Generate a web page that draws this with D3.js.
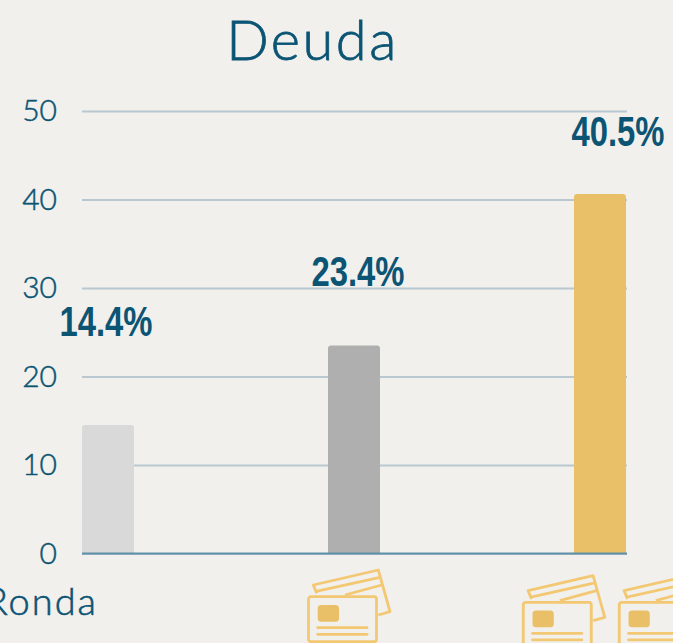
<!DOCTYPE html>
<html>
<head>
<meta charset="utf-8">
<script src="https://cdn.jsdelivr.net/npm/d3@7"></script>
<style>
  html, body { margin: 0; padding: 0; background: #f1f0ec; overflow: hidden; }
  svg { display: block; }
</style>
</head>
<body>
<div id="chart"></div>
<script>
const categories = ['Ronda 1', 'Ronda 2', 'Ronda 3'];
const values = [14.4, 23.4, 40.5];
const labels = ['14.4%', '23.4%', '40.5%'];
const barColors = ['#d9d9d9', '#afafaf', '#e9c068'];
const yTicks = [0, 10, 20, 30, 40, 50];
const iconCounts = [0, 1, 2];

const width = 673, height = 643;
const blue = '#0b5474';
const sans = 'Lato, sans-serif';

const svg = d3.select('#chart').append('svg')
    .attr('width', width)
    .attr('height', height);

svg.append('rect').attr('width', width).attr('height', height).attr('fill', '#f1f0ec');

// Scales
const x = d3.scaleBand()
    .domain(categories)
    .range([82, 626])
    .paddingInner(0.7886)
    .paddingOuter(0);
const y = d3.scaleLinear()
    .domain([0, 50])
    .range([553.5, 111]);

// Y axis, ticks double as gridlines
const yAxis = svg.append('g')
    .attr('transform', 'translate(82,0)')
    .call(d3.axisLeft(y).tickValues(yTicks).tickSize(-545).tickPadding(25));
yAxis.select('.domain').remove();
yAxis.selectAll('.tick line').attr('stroke', '#b8c7d0').attr('stroke-width', 2);
yAxis.selectAll('.tick text')
    .attr('fill', blue)
    .attr('stroke', blue)
    .attr('stroke-width', 0.5)
    .style('font-family', sans)
    .style('font-weight', 300)
    .style('font-size', '30px');

// Bars, only the top corners are rounded
const r = 3;
svg.selectAll('.bar')
    .data(categories)
    .enter().append('path')
    .attr('class', 'bar')
    .attr('fill', (d, i) => barColors[i])
    .attr('d', (d, i) => {
        const x0 = x(d), x1 = x(d) + x.bandwidth(), top = y(values[i]) - 1, bot = y(0);
        return `M${x0},${bot}V${top + r}Q${x0},${top} ${x0 + r},${top}H${x1 - r}Q${x1},${top} ${x1},${top + r}V${bot}Z`;
    });

// Baseline
svg.append('line')
    .attr('x1', 82).attr('x2', 627)
    .attr('y1', y(0)).attr('y2', y(0))
    .attr('stroke', '#5f90a8').attr('stroke-width', 2);

// Value labels, they sit at uneven spots over the bars
const labelDx = [-2, 4, 18];
const labelY = [336, 286, 146];
svg.selectAll('.label')
    .data(labels)
    .enter().append('text')
    .attr('class', 'label')
    .attr('text-anchor', 'middle')
    .attr('x', (d, i) => x(categories[i]) + x.bandwidth() / 2 + labelDx[i])
    .attr('y', (d, i) => labelY[i])
    .attr('fill', blue)
    .attr('textLength', 93)
    .attr('lengthAdjust', 'spacingAndGlyphs')
    .style('font-family', '"Liberation Sans", sans-serif')
    .style('font-weight', 'bold')
    .style('font-size', '42px')
    .text(d => d);

// Title
svg.append('text')
    .attr('text-anchor', 'middle')
    .attr('x', 312.5)
    .attr('y', 60)
    .attr('fill', blue)
    .attr('stroke', blue)
    .attr('stroke-width', 0.8)
    .style('font-family', sans)
    .style('font-weight', 300)
    .style('font-size', '56px')
    .style('letter-spacing', '2.5px')
    .text('Deuda');

svg.append('text')
    .attr('text-anchor', 'end')
    .attr('x', 98)
    .attr('y', 615)
    .attr('fill', blue)
    .attr('stroke', blue)
    .attr('stroke-width', 0.6)
    .style('font-family', sans)
    .style('font-weight', 300)
    .style('font-size', '38px')
    .style('letter-spacing', '2px')
    .text('Ronda');

// Credit card pictogram, front card origin at its top left corner
function drawCard(g) {
    const amber = '#f3c873';
    g.append('path')
        .attr('fill', 'none').attr('stroke', amber).attr('stroke-width', 2.8).attr('stroke-linejoin', 'round')
        .attr('d', 'M8.2,-3.4L4.8,-11.7L69.8,-26.7L81.5,15L69.8,18.3M6.5,-5L71.5,-19.4M36.5,-1.7L73.2,-11.7');
    g.append('rect')
        .attr('width', 68).attr('height', 45).attr('rx', 2.5)
        .attr('fill', '#f1f0ec').attr('stroke', amber).attr('stroke-width', 2.8);
    g.append('rect')
        .attr('x', 9.2).attr('y', 8.3).attr('width', 21.3).attr('height', 16.7).attr('rx', 3.5)
        .attr('fill', '#e9c068');
    g.selectAll('.stripe')
        .data([31, 37.6])
        .enter().append('line')
        .attr('x1', 9.2).attr('x2', 58.5)
        .attr('y1', d => d).attr('y2', d => d)
        .attr('stroke', amber).attr('stroke-width', 2.8).attr('stroke-linecap', 'round');
}

const iconLeft = [0, -45.5, -76.7];
const iconTop = [0, 596.7, 602.3];
const iconStep = 96;
categories.forEach((c, i) => {
    d3.range(iconCounts[i]).forEach(k => {
        const cx = x(c) + x.bandwidth() / 2;
        svg.append('g')
            .attr('transform', `translate(${cx + iconLeft[i] + k * iconStep},${iconTop[i]})`)
            .call(drawCard);
    });
});
</script>
</body>
</html>
